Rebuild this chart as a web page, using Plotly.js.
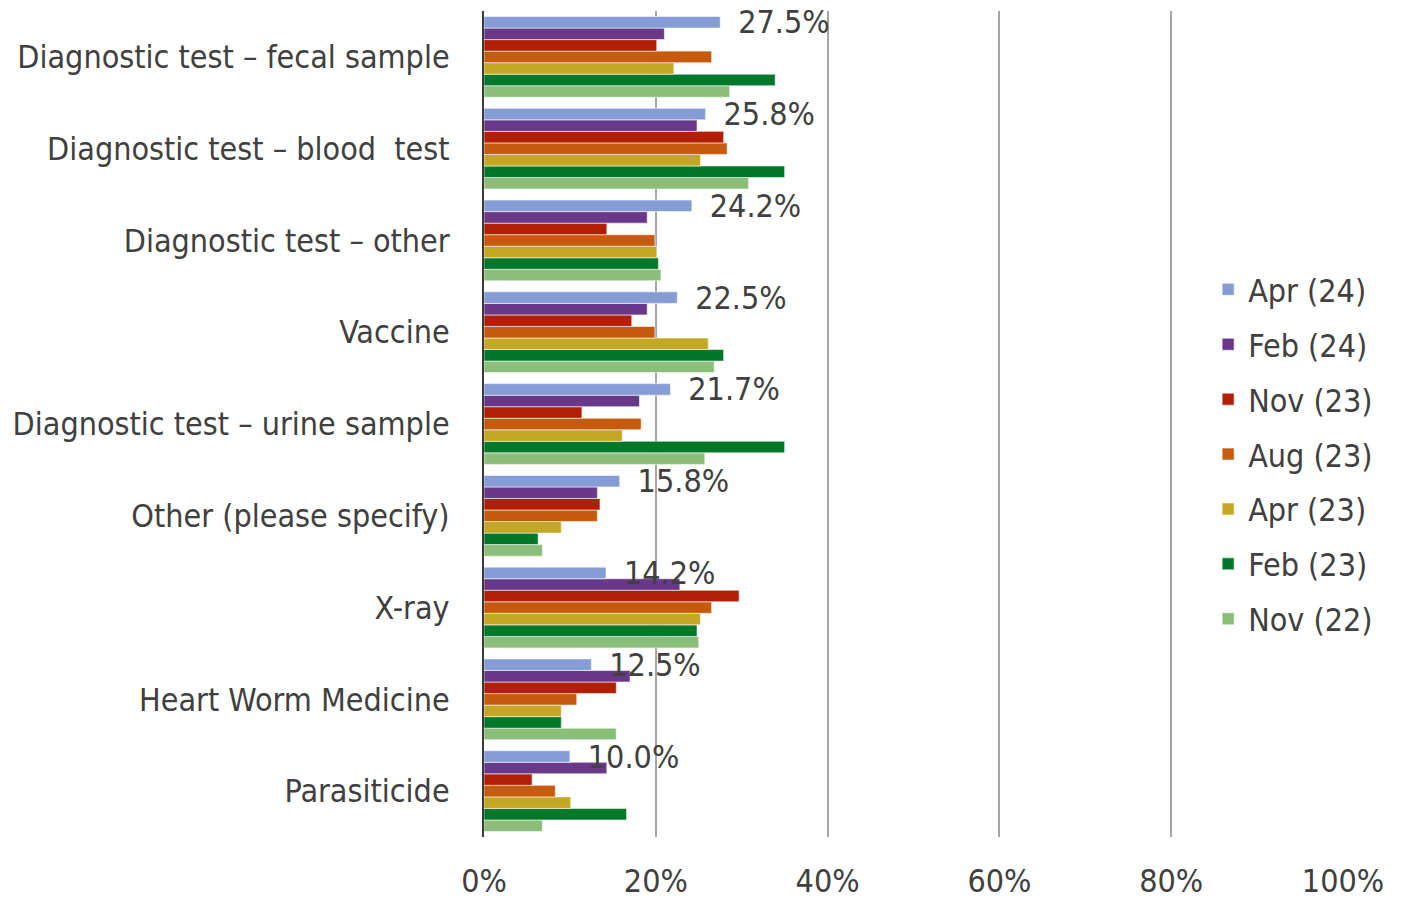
<!DOCTYPE html>
<html>
<head>
<meta charset="utf-8">
<script src="https://cdn.plot.ly/plotly-3.0.1.min.js"></script>
<style>html,body{margin:0;padding:0;background:#fff}#chart{width:1402px;height:900px}</style>
</head>
<body>
<div id="chart"></div>
<script>
// Categories, top to bottom as shown in the chart
const categories = [
  "Diagnostic test \u2013 fecal sample",
  "Diagnostic test \u2013 blood  test",
  "Diagnostic test \u2013 other",
  "Vaccine",
  "Diagnostic test \u2013 urine sample",
  "Other (please specify)",
  "X-ray",
  "Heart Worm Medicine",
  "Parasiticide"
];

// Series (percent), in category order above
const seriesNames = ["Apr (24)", "Feb (24)", "Nov (23)", "Aug (23)", "Apr (23)", "Feb (23)", "Nov (22)"];
const apr24 = [27.5, 25.8, 24.2, 22.5, 21.7, 15.8, 14.2, 12.5, 10.0];
const feb24 = [21.0, 24.8, 19.0, 19.0, 18.1, 13.2, 22.8, 17.0, 14.3];
const nov23 = [20.1, 27.9, 14.3, 17.2, 11.4, 13.5, 29.7, 15.4, 5.6];
const aug23 = [26.5, 28.3, 19.9, 19.9, 18.3, 13.2, 26.5, 10.8, 8.3];
const apr23 = [22.1, 25.2, 20.1, 26.1, 16.1, 9.0, 25.2, 9.0, 10.1];
const feb23 = [33.9, 35.0, 20.3, 27.9, 35.0, 6.3, 24.8, 9.0, 16.6];
const nov22 = [28.6, 30.8, 20.6, 26.8, 25.7, 6.8, 25.0, 15.4, 6.8];
const seriesValues = [apr24, feb24, nov23, aug23, apr23, feb23, nov22];
const seriesColors = ["#859dd4", "#6a3889", "#b21f07", "#c65b10", "#c4a724", "#00782a", "#8bbf79"];
const xTicks = [0, 20, 40, 60, 80, 100];

const FONT = "'DejaVu Sans Condensed', 'DejaVu Sans', sans-serif";
const TXT = "#404040";

const traces = [];
for (let i = seriesNames.length - 1; i >= 0; i--) {
  const t = {
    type: "bar",
    orientation: "h",
    name: seriesNames[i],
    legendgroup: "g" + i,
    legendrank: i + 1,
    y: categories,
    x: seriesValues[i],
    marker: {color: seriesColors[i], line: {color: "rgba(255,255,255,0.7)", width: 0.8}},
    hoverinfo: "x+name"
  };
  if (i === 0) {
    t.texttemplate = "\u00a0\u2009%{x:.1f}%";
    t.textposition = "outside";
    t.constraintext = "none";
    t.cliponaxis = false;
    t.textfont = {family: FONT, size: 32, color: TXT};
  }
  traces.push(t);
}

const layout = {
  width: 1402,
  height: 900,
  margin: {l: 484, r: 59, t: 11, b: 63},
  paper_bgcolor: "#ffffff",
  plot_bgcolor: "#ffffff",
  font: {family: FONT, size: 32, color: TXT},
  barmode: "group",
  bargap: 0.12,
  bargroupgap: 0,
  showlegend: true,
  legend: {
    x: 0.843, xanchor: "left",
    y: 0.463, yanchor: "middle",
    traceorder: "grouped",
    tracegroupgap: 10.3,
    bgcolor: "rgba(0,0,0,0)",
    font: {family: FONT, size: 32, color: TXT}
  },
  xaxis: {
    range: [0, 100],
    tickvals: xTicks,
    ticktext: xTicks.map(v => v + "%"),
    showgrid: true,
    gridcolor: "#a6a6a6",
    gridwidth: 2,
    zeroline: false,
    showline: false,
    ticks: "",
    ticklabelstandoff: 22,
    tickfont: {family: FONT, size: 32, color: TXT},
    fixedrange: true
  },
  yaxis: {
    type: "category",
    categoryorder: "array",
    categoryarray: categories.slice().reverse(),
    showgrid: false,
    zeroline: false,
    showline: true,
    linecolor: "#3a3a3a",
    linewidth: 2,
    ticks: "",
    ticklabelstandoff: 26,
    tickfont: {family: FONT, size: 32, color: TXT},
    fixedrange: true
  }
};

Plotly.newPlot("chart", traces, layout, {displayModeBar: false, staticPlot: true});
</script>
</body>
</html>
